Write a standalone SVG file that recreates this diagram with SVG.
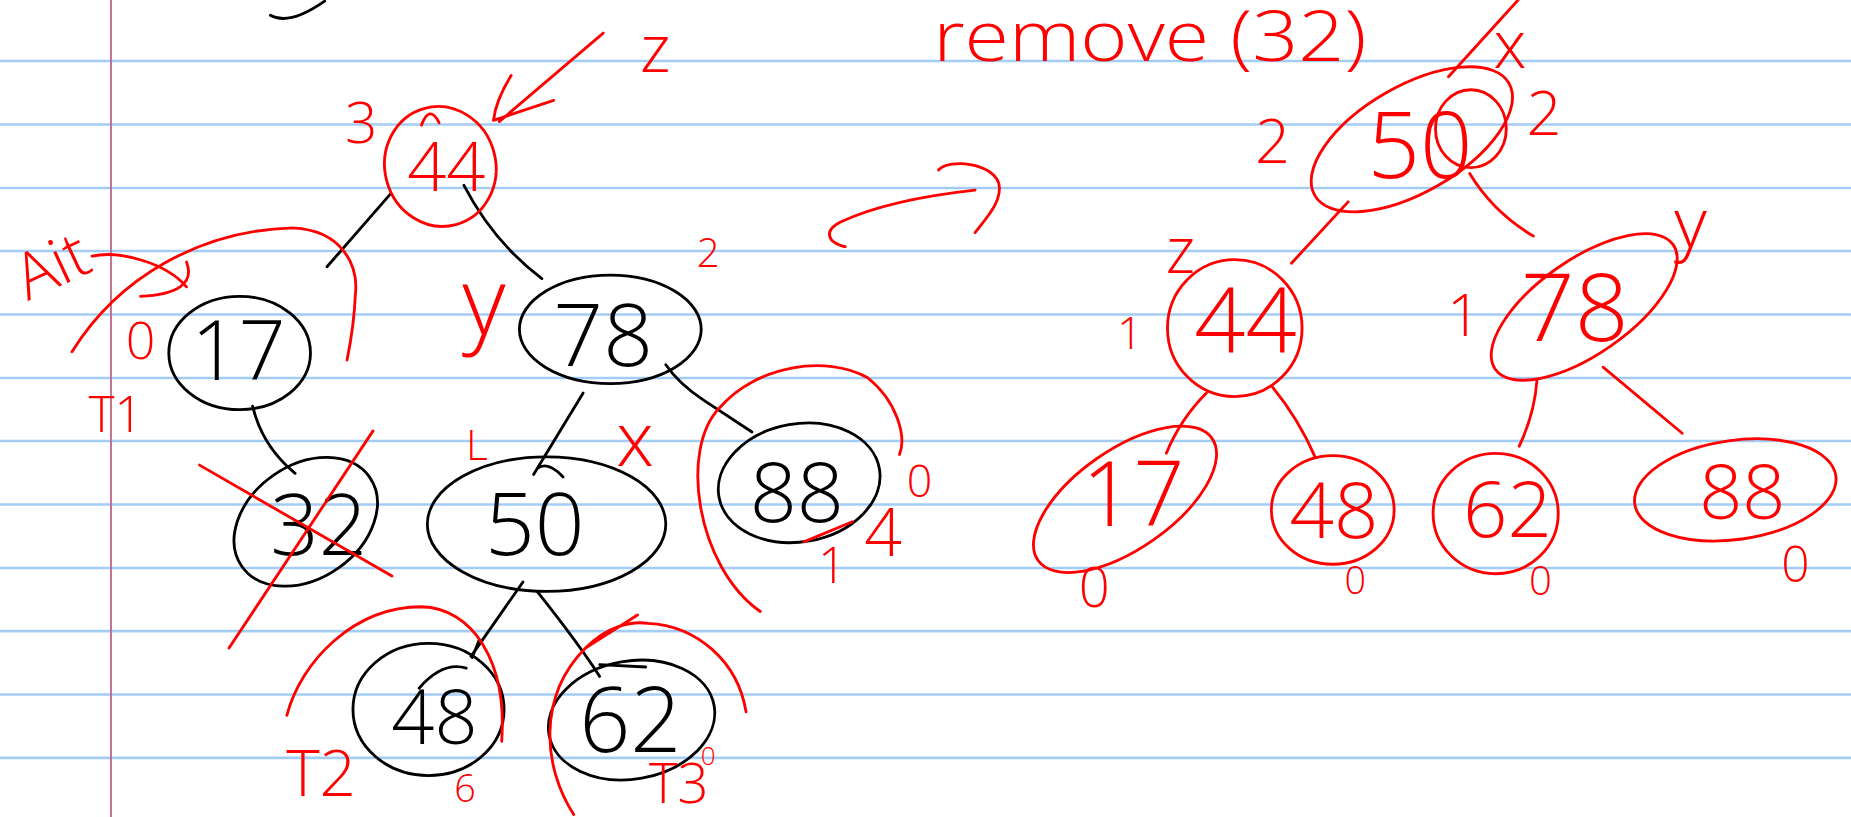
<svg xmlns="http://www.w3.org/2000/svg" width="1851" height="817" viewBox="0 0 1851 817">
<defs>
<style>
.bl{stroke:#a4cdf6;stroke-width:2.2;fill:none}
.mg{stroke:#c06a8e;stroke-width:1.6;fill:none}
.k{stroke:#000;stroke-width:2.4;fill:none;stroke-linecap:round;stroke-linejoin:round}
.r{stroke:#ff0000;stroke-width:2.4;fill:none;stroke-linecap:round;stroke-linejoin:round}
.tk{fill:#000;font-family:"Open Sans","Liberation Sans",sans-serif;font-weight:300;text-anchor:middle}
.tr{fill:#ff0000;font-family:"Open Sans","Liberation Sans",sans-serif;font-weight:300;text-anchor:middle}
</style>
</defs>
<rect width="1851" height="817" fill="#fff"/>
<g transform="scale(1.18048)">
<g id="paper">
<path class="bl" d="M0,51.7H1568M0,105.5H1568M0,159.2H1568M0,212.6H1568M0,266.4H1568M0,320.2H1568M0,373.6H1568M0,427.4H1568M0,481.1H1568M0,534.6H1568M0,588.3H1568M0,642H1568"/>
<path class="mg" d="M94,0V700"/>
<path class="k" d="M229,13 Q245,22 275,1"/>
</g>

<g id="connectors">
<path class="k" d="M331,164 L277,226"/>
<path class="k" d="M393,157 Q418,205 459,236"/>
<path class="k" d="M214,344 Q222,378 250,401"/>
<path class="k" d="M494,333 L452,402 M455,397 Q464,390 477,404"/>
<path class="k" d="M564,309 Q575,325 596,339 L637,366"/>
<path class="k" d="M443,493 L399,556 M406,542 L400,557"/>
<path class="k" d="M455,501 Q490,545 508,573"/>
<path class="r" d="M1227,65 L1286,0"/>
<path class="r" d="M1142,171 L1094,223"/>
<path class="r" d="M1245,147 Q1265,180 1299,200"/>
<path class="r" d="M1022,333 Q1000,355 988,384"/>
<path class="r" d="M1078,328 Q1100,355 1114,387"/>
<path class="r" d="M1302,322 Q1300,350 1287,378"/>
<path class="r" d="M1358,311 L1425,367"/>
</g>

<g id="node-44">
<ellipse class="r" cx="373" cy="141" rx="47" ry="51" transform="rotate(-15 373 141)"/>
<text class="tr" x="378" y="162" font-size="58">44</text>
<path class="r" d="M357,106 Q364,88 372,104"/>
<text class="tr" x="306" y="121" font-size="48">3</text>
</g>
<g id="annot-z">
<path class="r" d="M511,28 L423,103 M433,64 Q420,85 418,102 L469,85"/>
<text class="tr" x="555" y="61" font-size="56">z</text>
</g>
<g id="annot-ait">
<text class="tr" x="52" y="242" font-size="54" transform="rotate(-25 52 242)">Ait</text>
<path class="r" d="M78,217 C100,212 140,222 158,243 M158,222 C165,240 150,250 119,251"/>
<path class="r" d="M61,298 C100,235 170,195 248,193 C290,195 304,225 301,250 C300,275 297,290 294,305"/>
<text class="tr" x="119" y="304" font-size="44">0</text>
<text class="tr" x="98" y="366" font-size="42">T1</text>
</g>
<g id="node-17">
<ellipse class="k" cx="203" cy="299" rx="60" ry="48"/>
<text class="tk" x="202" y="322" font-size="70">17</text>
</g>
<g id="node-78">
<ellipse class="k" cx="517" cy="279" rx="77" ry="46"/>
<text class="tk" x="511" y="310" font-size="74">78</text>
<text class="tr" x="410" y="284" font-size="80">y</text>
<text class="tr" x="600" y="226" font-size="34">2</text>
</g>
<g id="node-32">
<ellipse class="k" cx="259" cy="442" rx="66" ry="48" transform="rotate(-35 259 442)"/>
<text class="tk" x="270" y="470" font-size="72">32</text>
<path class="r" d="M169,394 L332,488 M316,365 L194,549"/>
</g>
<g id="node-50">
<ellipse class="k" cx="463" cy="444" rx="101" ry="57"/>
<text class="tk" x="453" y="470" font-size="74">50</text>
<text class="tr" x="404" y="390" font-size="36">L</text>
<text class="tr" x="538" y="395" font-size="64">x</text>
</g>
<g id="node-88">
<ellipse class="k" cx="677" cy="409" rx="69" ry="50" transform="rotate(-10 677 409)"/>
<text class="tk" x="675" y="442" font-size="70">88</text>
<path class="r" d="M644,518 C590,480 575,380 610,345 C640,310 700,300 735,320 C760,340 768,370 762,385"/>
<path class="r" d="M681,459 L722,442"/>
<text class="tr" x="779" y="421" font-size="38">0</text>
<text class="tr" x="748" y="471" font-size="56">4</text>
<text class="tr" x="705" y="494" font-size="42">1</text>
</g>
<g id="node-48">
<ellipse class="k" cx="363" cy="601" rx="64" ry="56"/>
<path class="k" d="M355,583 Q375,560 395,566"/>
<text class="tk" x="368" y="630" font-size="64">48</text>
<path class="r" d="M243,606 C255,560 300,514 357,514 C400,515 430,560 425,628"/>
<text class="tr" x="272" y="674" font-size="54">T2</text>
<text class="tr" x="394" y="679" font-size="32">6</text>
</g>
<g id="node-62">
<ellipse class="k" cx="535" cy="610" rx="71" ry="50" transform="rotate(-10 535 610)"/>
<path class="k" d="M508,563 L547,565"/>
<text class="tk" x="534" y="637" font-size="76">62</text>
<path class="r" d="M486,690 C460,650 455,590 496,549 C515,530 535,526 549,528 C590,530 625,560 632,603 M496,549 L540,521"/>
<text class="tr" x="575" y="680" font-size="46">T3</text>
<text class="tr" x="600" y="648" font-size="22">0</text>
</g>

<g id="arrow">
<path class="r" d="M716,209 C700,205 698,195 712,188 C740,175 780,166 826,161 M795,144 C805,134 840,138 846,155 C850,170 835,185 826,197"/>
</g>
<g id="title">
<text class="tr" x="974" y="52" font-size="60" textLength="367" lengthAdjust="spacingAndGlyphs">remove (32)</text>
</g>

<g id="r-node-50">
<ellipse class="r" cx="1196" cy="118" rx="95" ry="45" transform="rotate(-30 1196 118)"/>
<ellipse class="r" cx="1246" cy="109" rx="30" ry="33"/>
<text class="tr" x="1203" y="151" font-size="78">50</text>
<text class="tr" x="1279" y="58" font-size="56">x</text>
<text class="tr" x="1078" y="138" font-size="52">2</text>
<text class="tr" x="1308" y="114" font-size="52">2</text>
</g>
<g id="r-node-44">
<ellipse class="r" cx="1046" cy="278" rx="57" ry="58"/>
<text class="tr" x="1055" y="299" font-size="76">44</text>
<text class="tr" x="1000" y="231" font-size="54">z</text>
<text class="tr" x="957" y="296" font-size="38">1</text>
</g>
<g id="r-node-78">
<ellipse class="r" cx="1342" cy="260" rx="92" ry="40" transform="rotate(-35 1342 260)"/>
<text class="tr" x="1334" y="289" font-size="80">78</text>
<text class="tr" x="1432" y="210" font-size="60">y</text>
<text class="tr" x="1240" y="285" font-size="50">1</text>
</g>
<g id="r-node-17">
<ellipse class="r" cx="953" cy="423" rx="90" ry="42" transform="rotate(-35 953 423)"/>
<text class="tr" x="960" y="446" font-size="76">17</text>
<text class="tr" x="927" y="514" font-size="46">0</text>
</g>
<g id="r-node-48">
<ellipse class="r" cx="1129" cy="432" rx="52" ry="46"/>
<text class="tr" x="1130" y="456" font-size="66">48</text>
<text class="tr" x="1148" y="503" font-size="32">0</text>
</g>
<g id="r-node-62">
<ellipse class="r" cx="1267" cy="435" rx="53" ry="51"/>
<text class="tr" x="1277" y="455" font-size="66">62</text>
<text class="tr" x="1305" y="504" font-size="34">0</text>
</g>
<g id="r-node-88">
<ellipse class="r" cx="1470" cy="415" rx="86" ry="42" transform="rotate(-8 1470 415)"/>
<text class="tr" x="1476" y="440" font-size="64">88</text>
<text class="tr" x="1521" y="493" font-size="42">0</text>
</g>
</g>
</svg>
